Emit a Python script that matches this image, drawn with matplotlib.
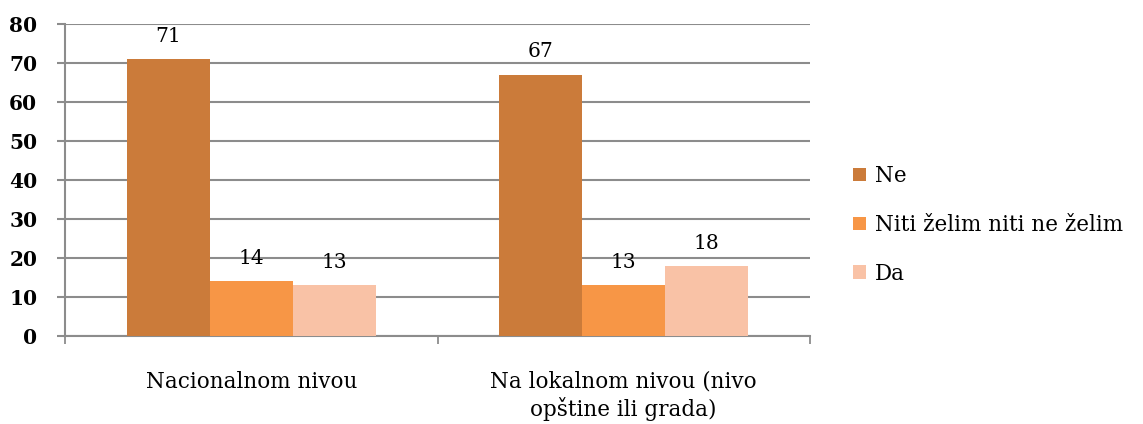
import matplotlib
matplotlib.use("Agg")
import matplotlib.pyplot as plt
import numpy as np

categories = ["Nacionalnom nivou", "Na lokalnom nivou (nivo\nopštine ili grada)"]
series_names = ["Ne", "Niti želim niti ne želim", "Da"]
ne = [71, 67]
niti = [14, 13]
da = [13, 18]
y_ticks = [0, 10, 20, 30, 40, 50, 60, 70, 80]

colors = ["#CB7B3A", "#F79646", "#F9C2A6"]
grid_c = "#8C8C8C"

plt.rcParams['font.family'] = ['DejaVu Serif']

fig = plt.figure(figsize=(11.43, 4.24), dpi=100)
ax = fig.add_axes([65/1143, 88/424, (810-65)/1143, (336-24)/424])

x = np.arange(len(categories))
w = 83/373
for i, (vals, name, c) in enumerate(zip([ne, niti, da], series_names, colors)):
    bars = ax.bar(x + (i - 1) * w, vals, width=w, color=c, label=name, zorder=3)
    for b, v in zip(bars, vals):
        ax.text(b.get_x() + b.get_width() / 2, v + 3.4, str(v), ha='center', va='bottom',
                fontsize=14.5, color='black')

ax.set_xlim(-0.5, 1.5)
ax.set_ylim(0, 80)
ax.set_yticks(y_ticks)
ax.set_yticklabels([str(t) for t in y_ticks], fontsize=14.5, fontweight='bold')
ax.yaxis.grid(True, color=grid_c, linewidth=1.5, zorder=0)
ax.set_axisbelow(True)

ax.set_xticks(x)
ax.set_xticklabels(categories, fontsize=15.5, linespacing=1.22)
ax.set_xticks([-0.5, 0.5, 1.5], minor=True)
ax.tick_params(axis='x', which='major', length=0, pad=25)
ax.tick_params(axis='x', which='minor', length=6, width=1.3, color=grid_c)
ax.tick_params(axis='y', length=6, width=1.5, color=grid_c, pad=14)

for s in ['top', 'right']:
    ax.spines[s].set_visible(False)
for s in ['left', 'bottom']:
    ax.spines[s].set_color(grid_c)
    ax.spines[s].set_linewidth(1.5)

leg = ax.legend(loc='center left', bbox_to_anchor=((853-65)/745, (424-225-88)/312),
                frameon=False, fontsize=15.5, handlelength=0.6, handleheight=0.6,
                handletextpad=0.42, labelspacing=1.25, borderaxespad=0, borderpad=0)

fig.savefig("out.png", dpi=100)
